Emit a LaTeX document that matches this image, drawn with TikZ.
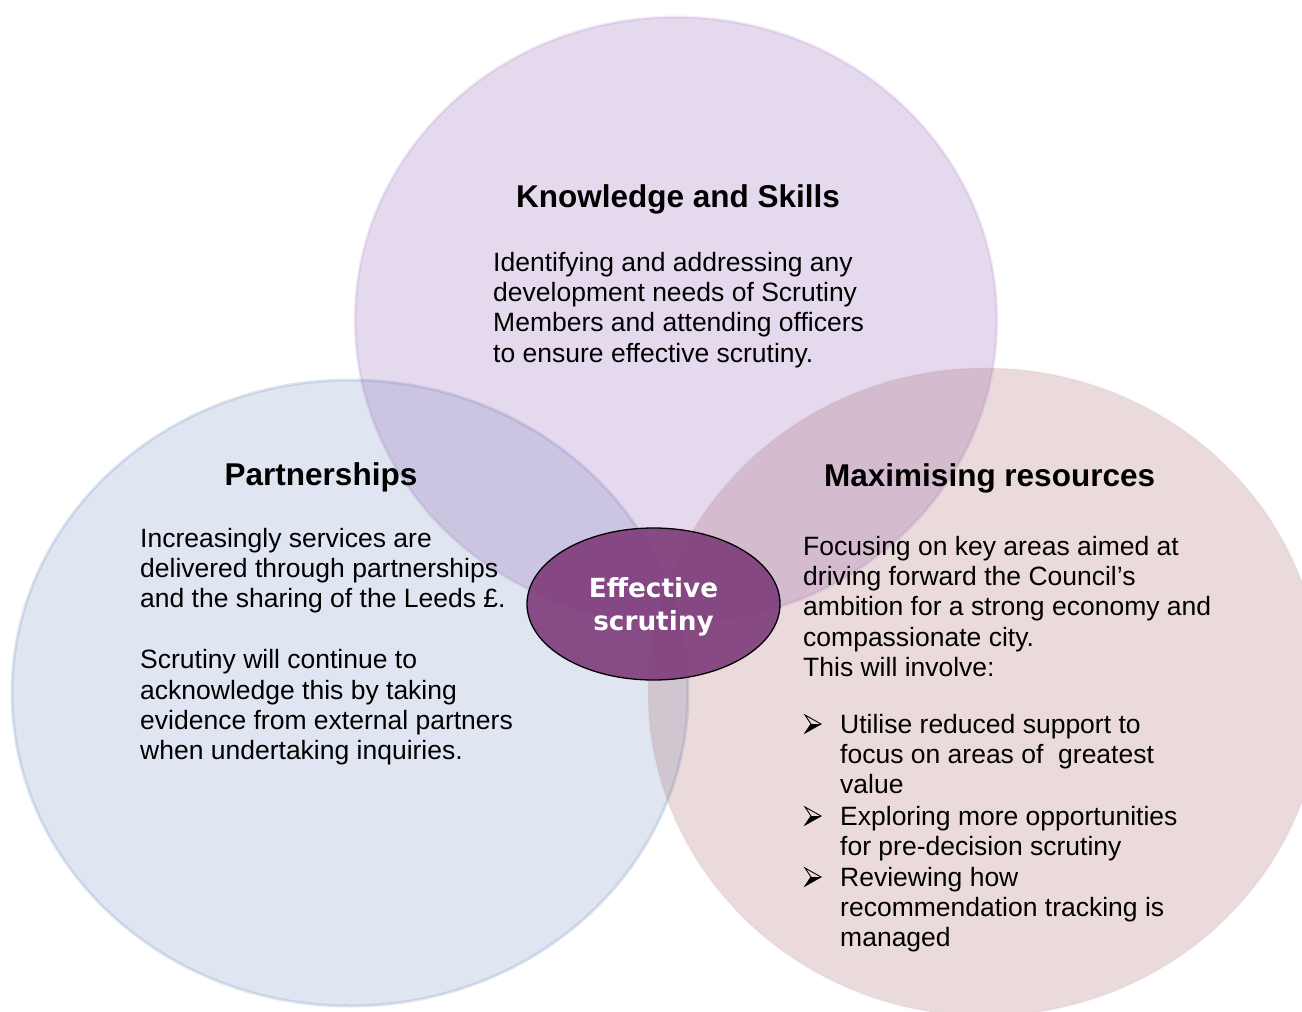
\documentclass[tikz,border=0pt]{standalone}
\usepackage{fontspec}
\setmainfont{Liberation Sans}
\newfontfamily\dvsans{DejaVu Sans}
\usetikzlibrary{shapes.geometric}

\definecolor{blueset}{RGB}{95,130,185}
\definecolor{purpleset}{RGB}{125,65,170}
\definecolor{pinkset}{RGB}{150,70,80}
\definecolor{coreplum}{RGB}{128,62,124}

\tikzset{
  setdisc/.style 2 args={fill=#1, fill opacity=0.2, draw=#1, draw opacity=#2, line width=3pt},
  heading/.style={font=\fontsize{31.5}{36}\selectfont\bfseries, inner sep=0pt},
  % multi-line blocks are placed by the baseline of their last line
  bodytext/.style={font=\fontsize{26.5}{30.4}\selectfont, align=left, inner sep=0pt, anchor=base west},
  core/.style={ellipse, draw=black, line width=1.3pt, fill=coreplum, fill opacity=0.92,
    minimum width=253pt, minimum height=152pt, inner sep=0pt},
  coretext/.style={text=white, align=center, inner sep=0pt,
    font=\dvsans\bfseries\fontsize{26.3}{33}\selectfont},
  % list marker: arrowhead with a light upper half and a dark lower half
  pointerhead/.pic={
    \draw[line width=0.9pt, line join=miter] (0,-9) -- (16,0) -- (0,9) -- (6,0) -- cycle;
    \fill (6,0) -- (16,0) -- (0,9) -- cycle;
  }
}

\begin{document}
\begin{tikzpicture}[x=1pt, y=-1pt]
  \useasboundingbox (0,0) rectangle (1302,1012);
  \clip (0,0) rectangle (1302,1012);

  % three overlapping sets
  \path[setdisc={blueset}{0.2}]    (350,693) ellipse [x radius=338, y radius=313];
  \path[setdisc={purpleset}{0.1}]  (676,320) ellipse [x radius=321, y radius=303];
  \path[setdisc={pinkset}{0.02}]   (985,692) ellipse [x radius=337, y radius=324];

  % Knowledge and Skills
  \node[heading, anchor=base] (ksh) at (678,207) {Knowledge and Skills};
  \node[bodytext] (ksb) at (493,362.2) {Identifying and addressing any\\
    development needs of Scrutiny\\
    Members and attending officers\\
    to ensure effective scrutiny.};

  % Partnerships
  \node[heading, anchor=base] (pah) at (321,485) {Partnerships};
  \node[bodytext] (pab) at (140,759.8) {Increasingly services are\\
    delivered through partnerships\\
    and the sharing of the Leeds \pounds.\\[30.4pt]
    Scrutiny will continue to\\
    acknowledge this by taking\\
    evidence from external partners\\
    when undertaking inquiries.};

  % Maximising resources
  \node[heading, anchor=base west] (mrh) at (824,486) {Maximising resources};
  \node[bodytext] (mrb) at (803,676.6) {Focusing on key areas aimed at\\
    driving forward the Council’s\\
    ambition for a strong economy and\\
    compassionate city.\\
    This will involve:};

  \pic at (805,724) {pointerhead};
  \node[bodytext] (b1) at (840,793.8) {Utilise reduced support to\\
    focus on areas of \ greatest\\
    value};
  \pic at (805,816) {pointerhead};
  \node[bodytext] (b2) at (840,855.4) {Exploring more opportunities\\
    for pre-decision scrutiny};
  \pic at (805,877) {pointerhead};
  \node[bodytext] (b3) at (840,946.8) {Reviewing how\\
    recommendation tracking is\\
    managed};

  % centre of the diagram
  \node[core] (es) at (653.5,604) {};
  \node[coretext, yshift=-2.5pt] (est) at (es.center) {Effective\\scrutiny};
\end{tikzpicture}
\end{document}
